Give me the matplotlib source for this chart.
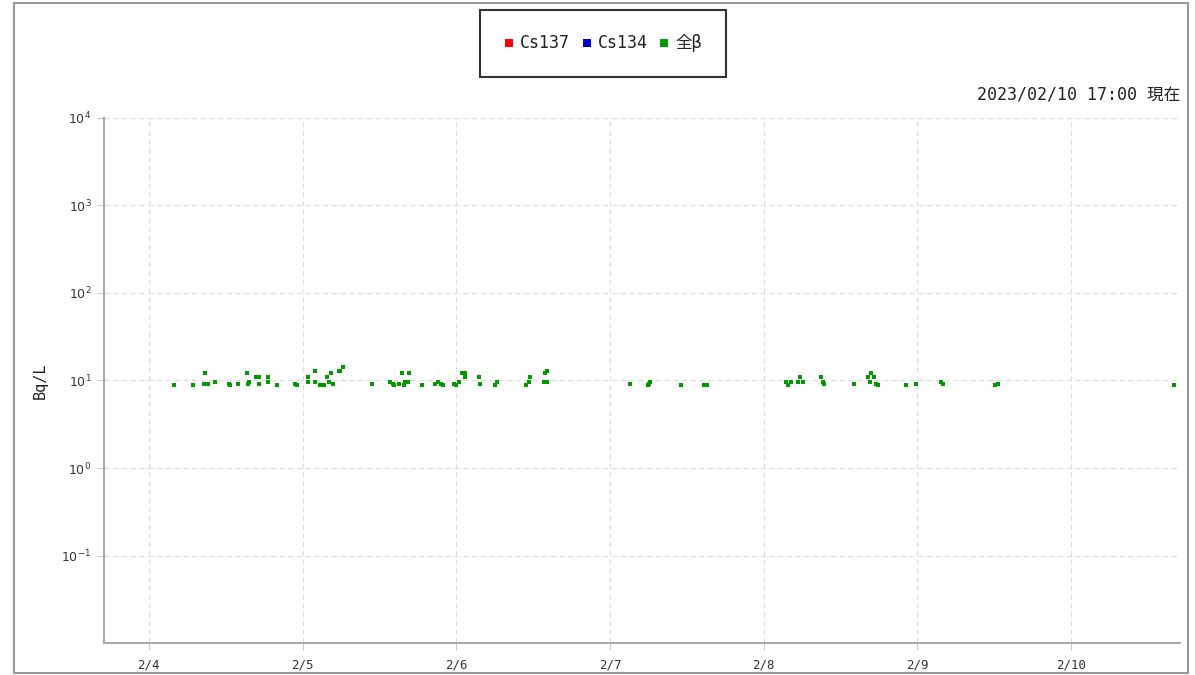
import matplotlib
matplotlib.use("Agg")
import matplotlib.pyplot as plt
import matplotlib.dates as mdates
from matplotlib.lines import Line2D
from matplotlib.patches import Rectangle
import pandas as pd

# ---- data ----
series_names = ["Cs137", "Cs134", "全β"]
series_colors = ["#ff0000", "#0000cc", "#009900"]

cs137_times = []
cs137_values = []
cs134_times = []
cs134_values = []

beta_times = [
    "2023-02-04 04:00", "2023-02-04 06:50", "2023-02-04 08:50", "2023-02-04 08:40",
    "2023-02-04 09:10", "2023-02-04 10:20", "2023-02-04 12:30", "2023-02-04 12:40",
    "2023-02-04 14:00", "2023-02-04 15:20", "2023-02-04 15:30", "2023-02-04 15:40",
    "2023-02-04 16:40", "2023-02-04 17:10", "2023-02-04 17:10", "2023-02-04 18:40",
    "2023-02-04 18:40", "2023-02-04 20:00", "2023-02-04 22:50", "2023-02-04 23:10",
    "2023-02-05 00:50", "2023-02-05 00:50", "2023-02-05 02:00", "2023-02-05 02:00",
    "2023-02-05 02:40", "2023-02-05 03:00", "2023-02-05 03:20", "2023-02-05 03:50",
    "2023-02-05 04:10", "2023-02-05 04:30", "2023-02-05 04:50", "2023-02-05 05:40",
    "2023-02-05 05:50", "2023-02-05 06:20", "2023-02-05 10:50", "2023-02-05 13:40",
    "2023-02-05 14:10", "2023-02-05 14:20", "2023-02-05 15:00", "2023-02-05 15:30",
    "2023-02-05 15:50", "2023-02-05 16:00", "2023-02-05 16:30", "2023-02-05 16:40",
    "2023-02-05 18:40", "2023-02-05 20:40", "2023-02-05 21:10", "2023-02-05 21:40",
    "2023-02-05 22:00", "2023-02-05 23:40", "2023-02-06 00:00", "2023-02-06 00:30",
    "2023-02-06 00:50", "2023-02-06 01:20", "2023-02-06 01:20", "2023-02-06 03:30",
    "2023-02-06 03:40", "2023-02-06 06:00", "2023-02-06 06:20", "2023-02-06 10:50",
    "2023-02-06 11:20", "2023-02-06 11:30", "2023-02-06 13:40", "2023-02-06 14:10",
    "2023-02-06 13:50", "2023-02-06 14:10", "2023-02-07 03:10", "2023-02-07 06:00",
    "2023-02-07 06:10", "2023-02-07 06:20", "2023-02-07 11:10", "2023-02-07 14:40",
    "2023-02-07 15:10", "2023-02-08 03:30", "2023-02-08 03:50", "2023-02-08 04:20",
    "2023-02-08 05:20", "2023-02-08 05:40", "2023-02-08 06:10", "2023-02-08 09:00",
    "2023-02-08 09:20", "2023-02-08 09:30", "2023-02-08 14:10", "2023-02-08 16:20",
    "2023-02-08 16:50", "2023-02-08 17:10", "2023-02-08 16:40", "2023-02-08 17:30",
    "2023-02-08 17:50", "2023-02-08 22:10", "2023-02-08 23:50", "2023-02-09 03:40",
    "2023-02-09 04:00", "2023-02-09 12:10", "2023-02-09 12:40", "2023-02-10 16:00",
]
beta_values = [
    9.0, 9.0, 12.3, 9.2,
    9.2, 9.7, 9.2, 9.0,
    9.2, 12.3, 9.2, 9.7,
    11.1, 11.1, 9.2, 11.1,
    9.7, 9.0, 9.2, 9.0,
    11.1, 9.7, 12.7, 9.7,
    9.0, 9.0, 9.0, 11.1,
    9.7, 12.3, 9.2, 12.7,
    12.7, 14.1, 9.2, 9.7,
    9.2, 9.0, 9.2, 12.3,
    9.0, 9.7, 9.7, 12.3,
    9.0, 9.2, 9.7, 9.2,
    9.0, 9.2, 9.0, 9.7,
    12.3, 12.3, 11.1, 11.1,
    9.2, 9.0, 9.7, 9.0,
    9.7, 11.1, 9.7, 9.7,
    12.3, 12.7, 9.2, 9.0,
    9.2, 9.7, 9.0, 9.0,
    9.0, 9.7, 9.0, 9.7,
    9.7, 11.1, 9.7, 11.1,
    9.7, 9.2, 9.2, 11.1,
    12.3, 11.1, 9.7, 9.2,
    9.0, 9.0, 9.2, 9.7,
    9.2, 9.0, 9.2, 9.0,
]

x_start = "2023-02-03 17:00"
x_end = "2023-02-10 17:00"
y_ticks = [1e-1, 1e0, 1e1, 1e2, 1e3, 1e4]
y_min, y_max = 1e-2, 1e4
y_label = "Bq/L"
stamp_text = "2023/02/10 17:00 現在"

# ---- figure ----
MONO = ["DejaVu Sans Mono", "Noto Sans CJK JP"]
fig = plt.figure(figsize=(11.95, 6.75), dpi=100)
ax = fig.add_axes([0.087, 0.0474, 0.9004, 0.7778])

all_series = [
    (cs137_times, cs137_values),
    (cs134_times, cs134_values),
    (beta_times, beta_values),
]
for (t, v), c in zip(all_series, series_colors):
    if len(t):
        ax.plot(pd.to_datetime(t), v, linestyle="none", marker="s",
                markersize=2.6, color=c, markeredgewidth=0)

ax.set_yscale("log")
ax.set_ylim(y_min, y_max)
ax.set_yticks(y_ticks)
ax.yaxis.set_minor_locator(matplotlib.ticker.NullLocator())
ax.set_xlim(pd.Timestamp(x_start), pd.Timestamp(x_end))
ax.xaxis.set_major_locator(mdates.DayLocator())
ax.xaxis.set_major_formatter(
    matplotlib.ticker.FuncFormatter(lambda x, p: f"{mdates.num2date(x).month}/{mdates.num2date(x).day}"))

ax.grid(True, color="#dddddd", linestyle=(0, (4, 3)), linewidth=0.9)
ax.set_axisbelow(True)
for s in ["top", "right"]:
    ax.spines[s].set_visible(False)
for s in ["left", "bottom"]:
    ax.spines[s].set_color("#aaaaaa")
    ax.spines[s].set_linewidth(1.5)
ax.tick_params(axis="both", colors="#cccccc", length=5, width=0.8, labelcolor="#333333")
ax.tick_params(axis="x", labelsize=9, pad=6)
ax.tick_params(axis="y", labelsize=9, pad=4)
for lab in ax.get_xticklabels():
    lab.set_family(MONO)

ax.set_ylabel(y_label, fontsize=11, color="#222222", labelpad=10, family=MONO)

# timestamp
fig.text(1180 / 1195, 1 - 96 / 675, stamp_text, ha="right", va="center",
         fontsize=12, color="#222222", family=MONO)

# legend
handles = [Line2D([], [], linestyle="none", marker="s", markersize=6,
                  color=c, markeredgewidth=0) for c in series_colors]
leg = fig.legend(handles, series_names, loc="center",
                 bbox_to_anchor=(603 / 1195, 1 - 43.5 / 675), ncol=3,
                 frameon=True, fancybox=False, borderpad=1.45,
                 handlelength=0.6, handletextpad=0.35, columnspacing=0.7,
                 prop={"family": MONO, "size": 12})
leg.get_frame().set_edgecolor("#000000")
leg.get_frame().set_linewidth(1.5)
for t in leg.get_texts():
    t.set_color("#222222")

# outer frame
fig.patches.append(Rectangle((14 / 1195, 2 / 675), (1188 - 14) / 1195, (672 - 2) / 675,
                             transform=fig.transFigure, fill=False,
                             edgecolor="#999999", linewidth=1.5))

fig.savefig("out.png", dpi=100)
